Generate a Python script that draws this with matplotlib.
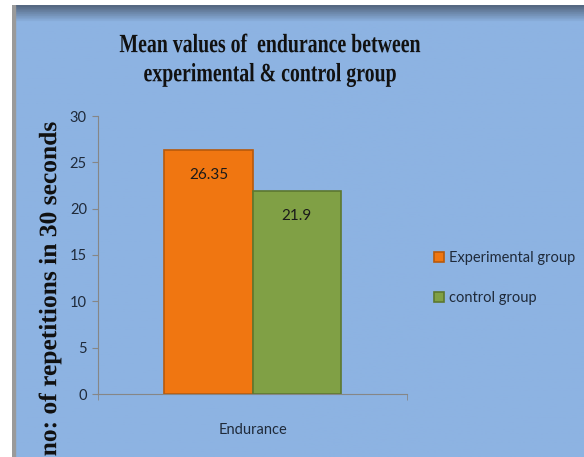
import numpy as np
import matplotlib.pyplot as plt
from matplotlib.patches import Rectangle, PathPatch
from matplotlib.textpath import TextPath
from matplotlib.font_manager import FontProperties
from matplotlib.transforms import Affine2D, IdentityTransform

# data
categories = ['Endurance']
series = ['Experimental group', 'control group']
values = [26.35, 21.9]
value_labels = ['26.35', '21.9']
colors = ['#F07611', '#80A045']
edges = ['#B85A0C', '#5C7830']
yticks = [0, 5, 10, 15, 20, 25, 30]

W, H = 584, 457
fig = plt.figure(figsize=(W / 100, H / 100), dpi=100)
fig.patch.set_facecolor('white')


def squeezed_text(s, cx, cy, size, sx, sy, rot=0):
    # text drawn as a path so it can be stretched like the original picture
    fp = FontProperties(family='Liberation Serif', weight='bold')
    tp = TextPath((0, 0), s, size=size * 100 / 72, prop=fp)
    ext = tp.get_extents()
    mx = (ext.x0 + ext.x1) / 2
    my = (ext.y0 + ext.y1) / 2
    tr = (Affine2D().translate(-mx, -my).scale(sx, sy).rotate_deg(rot)
          .translate(cx, H - cy))
    fig.patches.append(PathPatch(tr.transform_path(tp), facecolor='#111111',
                                 edgecolor='none', transform=IdentityTransform(),
                                 figure=fig, zorder=5))


### background panel with shaded top edge
bg = fig.add_axes([12 / W, 0, 1 - 12 / W, 1 - 5 / H])
bg.set_axis_off()
grad = np.linspace(0, 1, 200)
top = np.array([0x55, 0x68, 0x82]) / 255
base = np.array([0x8D, 0xB3, 0xE2]) / 255
mix = np.clip(grad / 0.035, 0, 1)[:, None]
img = (top * (1 - mix) + base * mix)[:, None, :]
bg.imshow(img, aspect='auto', extent=[0, 1, 0, 1], origin='upper')
bg.set_xlim(0, 1)
bg.set_ylim(0, 1)
bg.add_patch(Rectangle((0, 0), 0.006, 1, color='#9a9a9a', zorder=3))

### chart
ax = fig.add_axes([98 / W, 63 / H, 309 / W, 278 / H])
ax.set_facecolor('none')
width = 0.285
for i, (s, v) in enumerate(zip(series, values)):
    xpos = (i - 0.5) * width
    ax.bar(xpos, v, width, color=colors[i], edgecolor=edges[i], linewidth=1.2,
           label=s, zorder=2)
    ax.text(xpos, v - 2.7, value_labels[i], ha='center', va='center',
            fontsize=11, family='Lato', color='#1a1a1a', zorder=3)

ax.set_xlim(-0.5, 0.5)
ax.set_ylim(0, 30)
ax.set_yticks(yticks)
ax.set_xticks([0])
ax.set_xticklabels(categories, family='Lato', fontsize=10.5, color='#1F2A3A')
ax.tick_params(axis='x', length=0, pad=21)
ax.set_xticks([-0.5, 0.5], minor=True)
ax.tick_params(axis='x', which='minor', length=4, color='#868686')
ax.tick_params(axis='y', length=4, color='#868686', labelcolor='#1F2A3A',
               labelsize=10.5, pad=4)
for lbl in ax.get_yticklabels():
    lbl.set_family('Lato')
for side in ['top', 'right']:
    ax.spines[side].set_visible(False)
for side in ['left', 'bottom']:
    ax.spines[side].set_color('#868686')

leg = ax.legend(loc='center left', bbox_to_anchor=(421 / W, 1 - 278 / H),
                bbox_transform=fig.transFigure, frameon=False,
                prop={'family': 'Lato', 'size': 10.5},
                handlelength=0.65, handleheight=0.65, handletextpad=0.35,
                labelspacing=1.75)
for t in leg.get_texts():
    t.set_color('#1F2A3A')

### titles
squeezed_text('Mean values of  endurance between', 270, 43, 16.5, 0.865, 1.15)
squeezed_text('experimental & control group', 270, 75, 16.5, 0.865, 1.15)
squeezed_text('no: of repetitions in 30 seconds', 50, 289, 18, 1.02, 1.0, rot=90)

fig.savefig('out.png', dpi=100)
